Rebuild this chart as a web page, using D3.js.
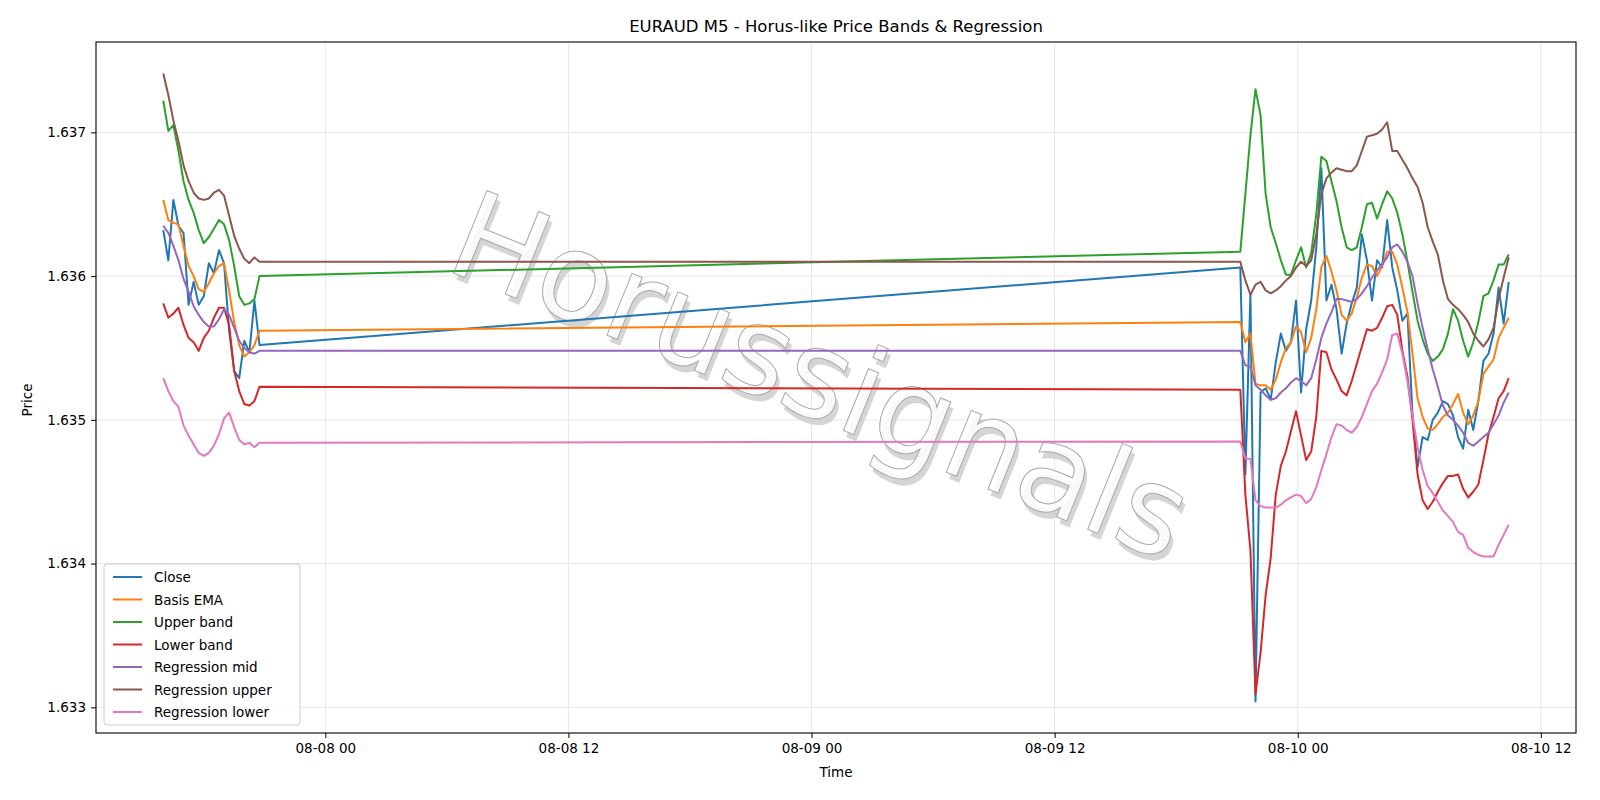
<!DOCTYPE html>
<html>
<head>
<meta charset="UTF-8">
<script src="https://cdn.jsdelivr.net/npm/d3@7"></script>
<style>
  body { margin: 0; background: #fff; }
  text { font-family: "DejaVu Sans", sans-serif; }
</style>
</head>
<body>
<svg id="chart" width="1600" height="800"></svg>
<script>
// 15-minute samples, two sessions (Fri afternoon, Sun evening -> Mon morning)
const leftStart = new Date(2025, 7, 7, 16, 0);
const rightStart = new Date(2025, 7, 9, 21, 10);

const closeL = [1.63632,1.63611,1.63653,1.63635,1.63630,1.63580,1.63596,1.63580,1.63586,1.63609,1.63602,1.63618,1.63609,1.63562,1.63534,1.63529,1.63555,1.63547,1.63583,1.63552];
const closeR = [1.63606,1.63462,1.63588,1.63304,1.63519,1.63522,1.63514,1.63540,1.63560,1.63548,
  1.63554,1.63583,1.63519,1.63563,1.63583,1.63620,1.63675,1.63583,1.63594,1.63577,
  1.63546,1.63567,1.63581,1.63592,1.63629,1.63611,1.63583,1.63611,1.63606,1.63639,
  1.63606,1.63590,1.63569,1.63574,1.63504,1.63467,1.63488,1.63486,1.63500,1.63505,
  1.63513,1.63511,1.63503,1.63488,1.63480,1.63507,1.63493,1.63513,1.63541,1.63546,
  1.63560,1.63592,1.63567,1.63596];

const emaL = [1.63653,1.63639,1.63637,1.63636,1.63621,1.63607,1.63600,1.63591,1.63589,1.63595,1.63602,1.63607,1.63609,1.63590,1.63568,1.63552,1.63544,1.63547,1.63552,1.63562];
const emaR = [1.63568,1.63554,1.63560,1.63525,1.63524,1.63524,1.63521,1.63528,1.63540,1.63550,
  1.63554,1.63565,1.63561,1.63547,1.63557,1.63577,1.63606,1.63614,1.63603,1.63590,
  1.63573,1.63569,1.63574,1.63585,1.63599,1.63608,1.63607,1.63600,1.63607,1.63617,
  1.63617,1.63608,1.63592,1.63575,1.63546,1.63515,1.63502,1.63494,1.63493,1.63497,
  1.63502,1.63505,1.63511,1.63518,1.63505,1.63497,1.63503,1.63513,1.63532,1.63537,
  1.63542,1.63557,1.63564,1.63571];

const upperL = [1.63722,1.63701,1.63705,1.63687,1.63666,1.63653,1.63644,1.63632,1.63623,1.63627,1.63633,1.63639,1.63636,1.63625,1.63607,1.63586,1.63580,1.63581,1.63584,1.63600];
const upperR = [1.63617,1.63657,1.63698,1.63730,1.63712,1.63657,1.63634,1.63623,1.63611,1.63601,
  1.63601,1.63611,1.63620,1.63606,1.63616,1.63643,1.63683,1.63680,1.63666,1.63652,
  1.63634,1.63620,1.63618,1.63620,1.63634,1.63650,1.63651,1.63640,1.63650,1.63659,
  1.63654,1.63644,1.63629,1.63610,1.63589,1.63569,1.63556,1.63546,1.63541,1.63544,
  1.63549,1.63560,1.63577,1.63569,1.63555,1.63544,1.63554,1.63568,1.63586,1.63588,
  1.63597,1.63608,1.63608,1.63615];

const lowerL = [1.63581,1.63571,1.63574,1.63578,1.63566,1.63557,1.63554,1.63548,1.63557,1.63562,1.63571,1.63578,1.63578,1.63566,1.63534,1.63520,1.63511,1.63510,1.63513,1.63523];
const lowerR = [1.63521,1.63448,1.63409,1.63309,1.63338,1.63378,1.63404,1.63448,1.63468,1.63478,
  1.63492,1.63506,1.63489,1.63472,1.63478,1.63502,1.63548,1.63547,1.63535,1.63528,
  1.63520,1.63517,1.63527,1.63539,1.63551,1.63563,1.63562,1.63564,1.63571,1.63579,
  1.63580,1.63573,1.63548,1.63530,1.63500,1.63462,1.63444,1.63438,1.63443,1.63450,
  1.63456,1.63461,1.63461,1.63462,1.63452,1.63446,1.63450,1.63455,1.63472,1.63490,
  1.63502,1.63515,1.63520,1.63529];

const regMidL = [1.63635,1.63630,1.63621,1.63611,1.63598,1.63589,1.63579,1.63573,1.63568,1.63565,1.63565,1.63570,1.63577,1.63573,1.63564,1.63555,1.63550,1.63547,1.63546,1.63548];
const regMidR = [1.63548,1.63538,1.63537,1.63524,1.63521,1.63517,1.63514,1.63515,1.63519,1.63522,
  1.63526,1.63529,1.63527,1.63524,1.63529,1.63542,1.63557,1.63567,1.63575,1.63584,
  1.63584,1.63583,1.63582,1.63584,1.63588,1.63593,1.63599,1.63604,1.63608,1.63613,
  1.63620,1.63622,1.63617,1.63610,1.63600,1.63581,1.63564,1.63549,1.63535,1.63523,
  1.63510,1.63503,1.63500,1.63496,1.63491,1.63484,1.63482,1.63485,1.63488,1.63491,
  1.63497,1.63503,1.63512,1.63519];

const regUpL = [1.63741,1.63726,1.63708,1.63694,1.63677,1.63666,1.63658,1.63654,1.63653,1.63654,1.63658,1.63660,1.63656,1.63642,1.63628,1.63619,1.63612,1.63609,1.63613,1.63610];
const regUpR = [1.63610,1.63597,1.63587,1.63594,1.63596,1.63590,1.63588,1.63590,1.63593,1.63597,
  1.63600,1.63606,1.63610,1.63607,1.63611,1.63629,1.63657,1.63668,1.63672,1.63675,
  1.63674,1.63673,1.63673,1.63677,1.63687,1.63697,1.63698,1.63699,1.63702,1.63707,
  1.63687,1.63687,1.63681,1.63675,1.63668,1.63662,1.63651,1.63634,1.63624,1.63615,
  1.63597,1.63584,1.63580,1.63577,1.63573,1.63568,1.63560,1.63555,1.63551,1.63556,
  1.63564,1.63584,1.63599,1.63613];

const regLoL = [1.63529,1.63520,1.63513,1.63509,1.63496,1.63489,1.63483,1.63477,1.63475,1.63477,1.63482,1.63490,1.63501,1.63505,1.63495,1.63486,1.63483,1.63484,1.63481,1.63484];
const regLoR = [1.63485,1.63473,1.63473,1.63444,1.63440,1.63439,1.63439,1.63439,1.63441,1.63444,
  1.63446,1.63448,1.63447,1.63442,1.63445,1.63453,1.63465,1.63476,1.63488,1.63497,
  1.63496,1.63493,1.63491,1.63495,1.63502,1.63511,1.63520,1.63525,1.63533,1.63542,
  1.63559,1.63560,1.63546,1.63527,1.63503,1.63481,1.63465,1.63454,1.63449,1.63443,
  1.63437,1.63433,1.63429,1.63422,1.63420,1.63411,1.63408,1.63406,1.63405,1.63405,
  1.63405,1.63413,1.63420,1.63427];

const seriesNames = ["Close","Basis EMA","Upper band","Lower band","Regression mid","Regression upper","Regression lower"];
const seriesColors = ["#1f77b4","#ff7f0e","#2ca02c","#d62728","#9467bd","#8c564b","#e377c2"];
const yTicks = [1.633,1.634,1.635,1.636,1.637];

const times = closeL.map((_, i) => d3.timeMinute.offset(leftStart, 15*i))
  .concat(closeR.map((_, i) => d3.timeMinute.offset(rightStart, 15*i)));
const series = [
  closeL.concat(closeR), emaL.concat(emaR), upperL.concat(upperR), lowerL.concat(lowerR),
  regMidL.concat(regMidR), regUpL.concat(regUpR), regLoL.concat(regLoR)
];

const W = 1600, H = 800;
const m = {left: 96, right: 24, top: 42, bottom: 67};
const svg = d3.select("#chart");

const tExt = d3.extent(times), tPad = (tExt[1]-tExt[0])*0.05;
const x = d3.scaleTime()
  .domain([new Date(+tExt[0]-tPad), new Date(+tExt[1]+tPad)])
  .range([m.left, W-m.right]);
const allV = series.flat(), vExt = d3.extent(allV), vPad = (vExt[1]-vExt[0])*0.05;
const y = d3.scaleLinear().domain([vExt[0]-vPad, vExt[1]+vPad]).range([H-m.bottom, m.top]);

// grid
const xTicks = d3.timeHour.every(12).range(x.domain()[0], x.domain()[1]);
svg.append("g").selectAll("line").data(xTicks).join("line")
  .attr("x1", d=>x(d)).attr("x2", d=>x(d)).attr("y1", m.top).attr("y2", H-m.bottom)
  .attr("stroke", "#e6e6e6").attr("stroke-width", 1);
svg.append("g").selectAll("line").data(yTicks).join("line")
  .attr("x1", m.left).attr("x2", W-m.right).attr("y1", d=>y(d)).attr("y2", d=>y(d))
  .attr("stroke", "#e6e6e6").attr("stroke-width", 1);

// watermark
const wm = svg.append("g").attr("transform", "translate(805,415) rotate(22)");
wm.append("text").attr("x", 5).attr("y", 5).attr("text-anchor", "middle")
  .attr("font-size", 122).attr("fill", "#c8c8c8").attr("opacity", 0.75).text("Horussignals");
wm.append("text").attr("text-anchor", "middle")
  .attr("font-size", 122).attr("fill", "#ffffff").attr("fill-opacity", 0.85)
  .attr("stroke", "#aaaaaa").attr("stroke-width", 1).text("Horussignals");

// lines
const line = d3.line().x((d,i)=>x(times[i])).y(d=>y(d));
const order = [0,1,2,3,4,5,6];
svg.append("g").selectAll("path").data(order).join("path")
  .attr("d", i=>line(series[i]))
  .attr("fill", "none").attr("stroke", i=>seriesColors[i])
  .attr("stroke-width", 2).attr("stroke-linejoin", "round");

// axes
const xAxis = d3.axisBottom(x).tickValues(xTicks).tickFormat(d3.timeFormat("%m-%d %H")).tickSize(5).tickPadding(5);
const yAxis = d3.axisLeft(y).tickValues(yTicks).tickFormat(d3.format(".3f")).tickSize(5).tickPadding(5);
const gx = svg.append("g").attr("transform", `translate(0,${H-m.bottom})`).call(xAxis);
const gy = svg.append("g").attr("transform", `translate(${m.left},0)`).call(yAxis);
[gx, gy].forEach(g => {
  g.select(".domain").remove();
  g.selectAll("text").attr("font-size", 13.5).attr("fill", "#000").attr("font-family", "DejaVu Sans");
  g.selectAll("line").attr("stroke", "#000");
});
svg.append("rect").attr("x", m.left).attr("y", m.top)
  .attr("width", W-m.left-m.right).attr("height", H-m.top-m.bottom)
  .attr("fill", "none").attr("stroke", "#000").attr("stroke-width", 1.1);

// labels
svg.append("text").attr("x", (m.left+W-m.right)/2).attr("y", 32).attr("text-anchor", "middle")
  .attr("font-size", 16.5).text("EURAUD M5 - Horus-like Price Bands & Regression");
svg.append("text").attr("x", (m.left+W-m.right)/2).attr("y", 777).attr("text-anchor", "middle")
  .attr("font-size", 13.5).text("Time");
svg.append("text").attr("transform", "translate(32,400) rotate(-90)").attr("text-anchor", "middle")
  .attr("font-size", 13.5).text("Price");

// legend
const lg = svg.append("g").attr("transform", "translate(104,564)");
lg.append("rect").attr("width", 196).attr("height", 161).attr("rx", 3)
  .attr("fill", "#fff").attr("fill-opacity", 0.8).attr("stroke", "#cccccc");
const li = lg.selectAll("g").data(seriesNames).join("g")
  .attr("transform", (d,i)=>`translate(0,${13 + i*22.5})`);
li.append("line").attr("x1", 9).attr("x2", 38).attr("stroke", (d,i)=>seriesColors[i]).attr("stroke-width", 2);
li.append("text").attr("x", 50).attr("y", 5).attr("font-size", 13.5).text(d=>d);
</script>
</body>
</html>
